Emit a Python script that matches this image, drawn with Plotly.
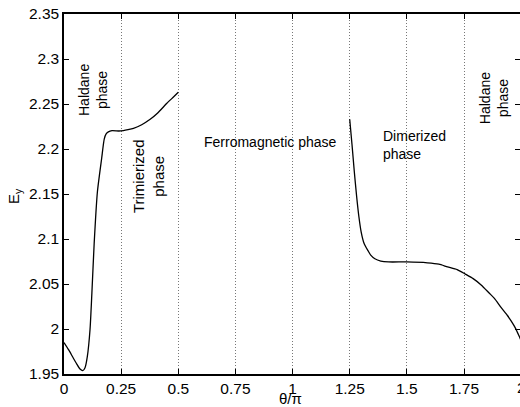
import plotly.graph_objects as go

# Segment 1: Haldane / Trimerized region (theta/pi from 0 to 0.5)
x1 = [0, 0.02, 0.04, 0.056, 0.07, 0.082, 0.092, 0.102, 0.114, 0.122, 0.132, 0.146, 0.165,
      0.176, 0.185, 0.194, 0.21, 0.24, 0.26, 0.28, 0.304, 0.34, 0.377, 0.41, 0.45, 0.48, 0.5]
y1 = [1.985, 1.977, 1.968, 1.961, 1.9555, 1.9537, 1.957, 1.9692, 2.0, 2.04, 2.095, 2.152, 2.19,
      2.211, 2.217, 2.219, 2.2203, 2.2200, 2.2205, 2.2215, 2.223, 2.227, 2.233, 2.240, 2.2508, 2.258, 2.263]

# Segment 2: Dimerized / Haldane region (theta/pi from 1.25 to 2)
x2 = [1.25, 1.26, 1.27, 1.28, 1.29, 1.30, 1.313, 1.33, 1.342, 1.36, 1.386, 1.42, 1.5, 1.59,
      1.64, 1.678, 1.72, 1.756, 1.79, 1.825, 1.86, 1.883, 1.912, 1.94, 1.956, 1.975, 1.993, 2.0]
y2 = [2.233, 2.205, 2.175, 2.148, 2.125, 2.108, 2.095, 2.087, 2.082, 2.078, 2.0755, 2.0745, 2.0745, 2.0735,
      2.072, 2.069, 2.066, 2.061, 2.056, 2.049, 2.040, 2.034, 2.024, 2.015, 2.009, 2.001, 1.991, 1.987]

xtick_vals = [0, 0.25, 0.5, 0.75, 1, 1.25, 1.5, 1.75]
xtick_text = ["0", "0.25", "0.5", "0.75", "1", "1.25", "1.5", "1.75"]
ytick_vals = [1.95, 2.0, 2.05, 2.1, 2.15, 2.2, 2.25, 2.3, 2.35]
ytick_text = ["1.95", "2", "2.05", "2.1", "2.15", "2.2", "2.25", "2.3", "2.35"]
X_MAX = 1.995

FONT = "Liberation Sans, Arial, Helvetica, sans-serif"

fig = go.Figure()
for xs, ys in [(x1, y1), (x2, y2)]:
    fig.add_trace(go.Scatter(x=xs, y=ys, mode="lines",
                             line=dict(color="black", width=1.3, shape="spline", smoothing=0.6),
                             showlegend=False, hoverinfo="skip"))

fig.update_layout(
    width=520, height=407,
    margin=dict(l=64, r=0, t=14, b=33),
    paper_bgcolor="white", plot_bgcolor="white",
    font=dict(family=FONT, color="black", size=15),
    xaxis=dict(range=[0, X_MAX], tickvals=xtick_vals, ticktext=xtick_text, automargin=False,
               ticks="inside", ticklen=5, tickcolor="black", tickwidth=1,
               showline=True, linecolor="black", linewidth=1.5, mirror="ticks",
               showgrid=True, gridcolor="#777777", griddash="1px,2px", gridwidth=1,
               zeroline=False, tickfont=dict(size=15.5, family=FONT, color="black")),
    yaxis=dict(range=[1.95, 2.35], tickvals=ytick_vals, ticktext=ytick_text, automargin=False,
               ticks="inside", ticklen=5, tickcolor="black", tickwidth=1,
               showline=True, linecolor="black", linewidth=1.5, mirror="ticks",
               showgrid=False, zeroline=False,
               tickfont=dict(size=15.5, family=FONT, color="black")),
)

ann_font = dict(family=FONT, size=14, color="black")
annotations = [
    dict(x=0.127, y=2.2656, text="Haldane<br>phase", textangle=-90),
    dict(x=0.368, y=2.17, text="Trimierized<br>phase", textangle=-90, font=dict(family=FONT, size=15, color="black")),
    dict(x=0.904, y=2.2078, text="Ferromagnetic phase", textangle=0),
    dict(x=1.386, y=2.2044, text="Dimerized<br>phase", textangle=0, xanchor="left", align="left"),
    dict(x=1.882, y=2.2567, text="Haldane<br>phase", textangle=-90),
]
for a in annotations:
    a.setdefault("font", ann_font)
    a.setdefault("xanchor", "center")
    fig.add_annotation(xref="x", yref="y", showarrow=False, yanchor="middle", **a)

# tick label "2" at right edge (axis end lies just beyond the window)
fig.add_annotation(xref="paper", yref="paper", x=2.0 / X_MAX, y=0, yshift=-13, text="2", showarrow=False,
                   xanchor="center", yanchor="middle", font=dict(family=FONT, size=15.5, color="black"))
# axis titles
fig.add_annotation(xref="x", yref="paper", x=0.99, y=-0.067, text="θ/π", showarrow=False,
                   xanchor="center", yanchor="middle", font=dict(family=FONT, size=15, color="black"))
fig.add_annotation(xref="paper", yref="paper", x=-0.11, y=0.494, text="E<sub>y</sub>", showarrow=False,
                   textangle=-90, xanchor="center", yanchor="middle",
                   font=dict(family=FONT, size=15, color="black"))

fig.write_html("out.html", config={"displayModeBar": False},
               post_script="document.body.style.margin='0';document.body.style.overflow='hidden';")
